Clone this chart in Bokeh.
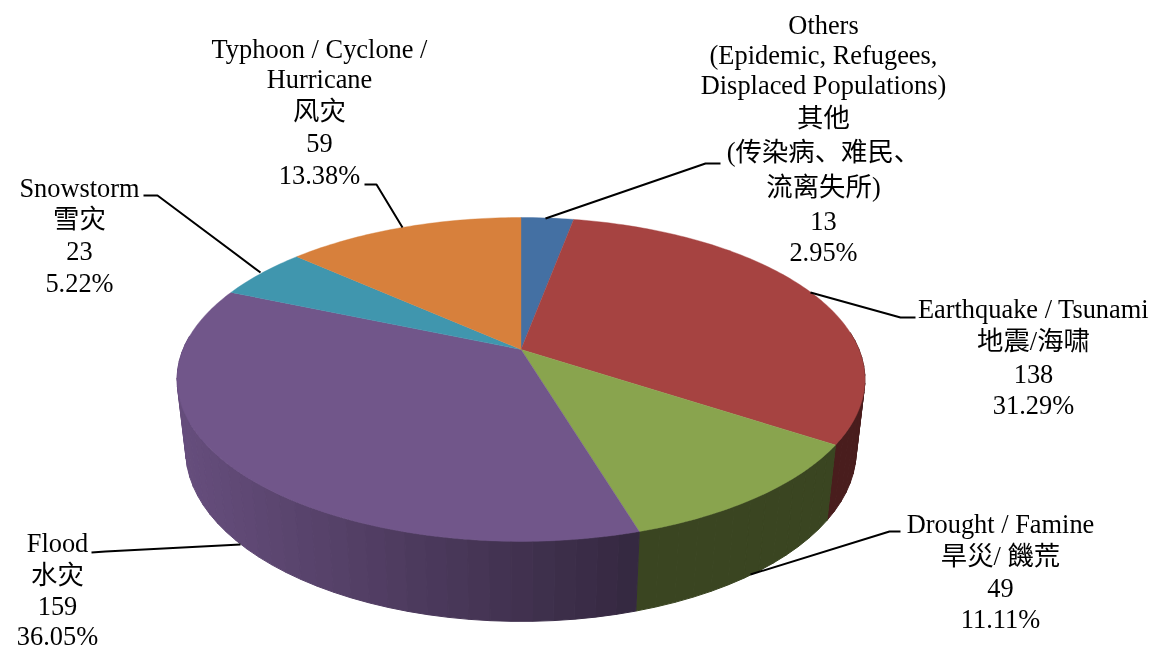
import numpy as np
from bokeh.plotting import figure
from bokeh.models import ColumnDataSource
from bokeh.core.properties import value
from bokeh.embed import file_html
from bokeh.resources import INLINE

categories = ["Others", "Earthquake / Tsunami", "Drought / Famine", "Flood", "Snowstorm", "Typhoon / Cyclone / Hurricane"]
values = [13, 138, 49, 159, 23, 59]
percents = ["2.95%", "31.29%", "11.11%", "36.05%", "5.22%", "13.38%"]
colors = ["#4470a3", "#a64341", "#89a44e", "#71568a", "#4096ae", "#d7803c"]

label_lines = [
    ["Others", "(Epidemic, Refugees,", "Displaced Populations)", "其他", "(传染病、难民、", "流离失所)", "13", "2.95%"],
    ["Earthquake / Tsunami", "地震/海啸", "138", "31.29%"],
    ["Drought / Famine", "旱災/ 饑荒", "49", "11.11%"],
    ["Flood", "水灾", "159", "36.05%"],
    ["Snowstorm", "雪灾", "23", "5.22%"],
    ["Typhoon / Cyclone /", "Hurricane", "风灾", "59", "13.38%"],
]
label_x = [823, 1033, 1000, 57, 79, 319]
label_y = [
    [24, 54, 84, 117, 151, 186, 220, 251],
    [308, 340, 373, 404],
    [523, 555, 587, 618],
    [542, 574, 605, 635],
    [187, 218, 250, 282],
    [48, 78, 110, 142, 174],
]
leaders_x = [[545, 705, 720], [810, 900, 915], [750, 889, 900], [240, 105, 91], [260, 157, 143], [402, 376, 364]]
leaders_y = [[218, 163, 163], [292, 317, 317], [574, 531, 531], [544, 551, 552], [272, 195, 195], [227, 184, 184]]

# perspective projection of the pie disc (screen pixels)
CX, CY, A, B, K = 520.5, 349.0, 338.0, 156.4, 0.185
M, D = 0.025, 72.0


def project(theta, r=1.0, z=0.0):
    x = r * np.sin(theta)
    y = r * np.cos(theta)
    w = 1 + K * y + M * z
    return CX + A * x / w, CY + (-B * y + D * z) / w


def shade(hex_color, f):
    c = [int(hex_color[i:i + 2], 16) for i in (1, 3, 5)]
    return "#%02x%02x%02x" % tuple(int(round(v * f)) for v in c)


total = sum(values)
edges = np.concatenate([[0], np.cumsum(values)]) / total * 2 * np.pi

p = figure(width=1155, height=651, x_range=(0, 1155), y_range=(651, 0),
           output_backend="svg", toolbar_location=None, min_border=0,
           background_fill_color="white", border_fill_color="white",
           styles={"position": "fixed", "left": "0", "top": "0"})
p.axis.visible = False
p.grid.visible = False
p.outline_line_color = None

# side walls of the front half of the disc, back to front
walls = []
for i in range(len(values)):
    t0, t1 = edges[i], edges[i + 1]
    n = max(2, int(np.degrees(t1 - t0) / 3))
    ts = np.linspace(t0, t1, n + 1)
    for a, b in zip(ts[:-1], ts[1:]):
        mid = (a + b) / 2
        if np.cos(mid) > 0.1:
            continue
        xa, ya = project(a)
        xb, yb = project(b)
        xc, yc = project(b, z=1)
        xd, yd = project(a, z=1)
        if i == 3:
            f = float(np.interp((xa + xb) / 2, [180, 630], [0.9, 0.47]))
        elif i == 2:
            f = 0.42
        elif i == 1:
            f = 0.44
        else:
            f = 0.6
        walls.append((np.cos(mid), [xa, xb, xc, xd], [ya, yb, yc, yd], shade(colors[i], f)))
walls.sort(key=lambda q: -q[0])
col = [q[3] for q in walls]
p.patches([q[1] for q in walls], [q[2] for q in walls], fill_color=col, line_color=col, line_width=1.0)

# top face
xs, ys = [], []
for i in range(len(values)):
    ts = np.linspace(edges[i], edges[i + 1], max(8, int(np.degrees(edges[i + 1] - edges[i]))))
    ex, ey = project(ts)
    xs.append([CX] + list(ex))
    ys.append([CY] + list(ey))
p.patches(xs, ys, fill_color=colors, line_color=colors, line_width=0.4)

# leaders
p.multi_line(leaders_x, leaders_y, line_color="black", line_width=2)

# labels
tx, ty, tt = [], [], []
for lines, x, yl in zip(label_lines, label_x, label_y):
    for s, y in zip(lines, yl):
        tx.append(x)
        ty.append(y)
        tt.append(s)
src = ColumnDataSource(dict(x=tx, y=ty, t=tt))
p.text("x", "y", text="t", source=src, text_align="center", text_baseline="middle",
       text_font=value("Liberation Serif, Noto Sans CJK SC"), text_font_size="26.4px", text_color="black")

open("out.html", "w").write(file_html(p, INLINE))
